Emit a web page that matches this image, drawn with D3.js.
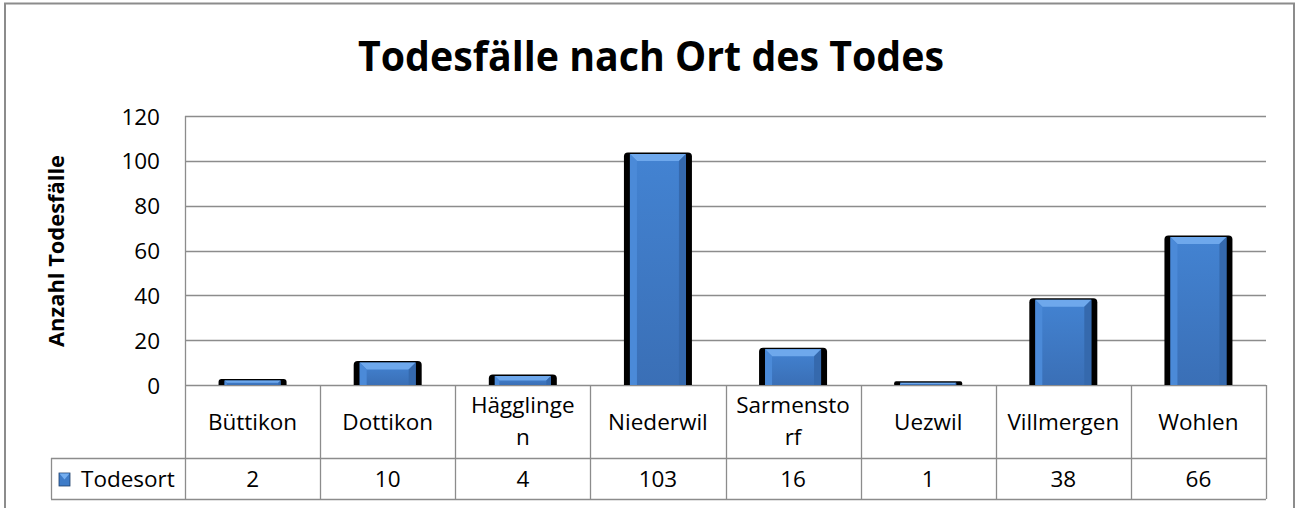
<!DOCTYPE html>
<html><head><meta charset="utf-8">
<script src="https://cdn.jsdelivr.net/npm/d3@7"></script>
<style>html,body{margin:0;padding:0;background:#fff;}svg{display:block;font-family:"Open Sans",sans-serif;}</style>
</head><body>
<svg id="c" width="1302" height="508"></svg>
<script>
const categories = ["Büttikon","Dottikon","Hägglingen","Niederwil","Sarmenstorf","Uezwil","Villmergen","Wohlen"];
const categoryLines = [["Büttikon"],["Dottikon"],["Hägglinge","n"],["Niederwil"],["Sarmensto","rf"],["Uezwil"],["Villmergen"],["Wohlen"]];
const values = [2,10,4,103,16,1,38,66];
const seriesName = "Todesort";
const yTicks = [0,20,40,60,80,100,120];
const title = "Todesfälle nach Ort des Todes";
const yLabel = "Anzahl Todesfälle";

const svg = d3.select("#c");
const L = 185, R = 1266, T = 116, B = 385, row1 = 458, row2 = 499, legL = 51;
const grid = "#8c8c8c";
const fs = 22.5;

svg.append("rect").attr("x",5).attr("y",3.5).attr("width",1289).attr("height",520)
  .attr("fill","#fff").attr("stroke","#8c8c8c").attr("stroke-width",2);

const x = d3.scaleBand().domain(categories).range([L,R]).padding(0);
const y = d3.scaleLinear().domain([0,120]).range([B,T]);

// gridlines
svg.append("g").selectAll("line").data(yTicks).join("line")
  .attr("x1",L).attr("x2",R).attr("y1",d=>Math.round(y(d))+0.5).attr("y2",d=>Math.round(y(d))+0.5)
  .attr("stroke",grid).attr("stroke-width",1.3);
svg.append("line").attr("x1",L+0.5).attr("x2",L+0.5).attr("y1",T).attr("y2",row2).attr("stroke",grid).attr("stroke-width",1.3);

// y axis labels
const yAxis = d3.axisLeft(y).tickValues(yTicks).tickSize(0).tickPadding(0);
const ga = svg.append("g").attr("transform",`translate(160,0)`).call(yAxis);
ga.select(".domain").remove();
ga.selectAll("text").attr("font-size",fs).attr("fill","#000").attr("font-family","Open Sans").attr("dy","0.36em");

// title
svg.append("text").attr("x",651).attr("y",71).attr("text-anchor","middle")
  .attr("font-size",42).attr("font-weight","bold").attr("textLength",586).attr("lengthAdjust","spacingAndGlyphs")
  .text(title);
// y label
svg.append("text").attr("transform","translate(64,251) rotate(-90)").attr("text-anchor","middle")
  .attr("font-size",21).attr("font-weight","bold").attr("textLength",192).attr("lengthAdjust","spacingAndGlyphs").text(yLabel);

// bars
const defs = svg.append("defs");
const g1 = defs.append("linearGradient").attr("id","bodyg").attr("x1",0).attr("x2",0).attr("y1",0).attr("y2",1);
g1.append("stop").attr("offset","0%").attr("stop-color","#4383d2");
g1.append("stop").attr("offset","100%").attr("stop-color","#3a6fb6");
const bw = 68;
const bars = svg.append("g").selectAll("g").data(values.map((v,i)=>({v,c:categories[i]}))).join("g");
bars.each(function(d){
  const g = d3.select(this);
  const cx = x(d.c)+x.bandwidth()/2;
  const x0 = cx-bw/2, x1 = cx+bw/2;
  const yt = y(d.v)-1.5, yb = B;
  const h = yb-yt;
  const r = Math.min(4,h/2);
  g.append("path").attr("d",`M${x0},${yb} L${x0},${yt+r} Q${x0},${yt} ${x0+r},${yt} L${x1-r},${yt} Q${x1},${yt} ${x1},${yt+r} L${x1},${yb} Z`).attr("fill","#000");
  const ix0 = x0+6, ix1 = x1-6, iy = yt+1.5;
  const ih = yb-iy;
  g.append("rect").attr("x",ix0).attr("y",iy).attr("width",ix1-ix0).attr("height",Math.max(0,ih)).attr("fill","url(#bodyg)");
  const bv = Math.min(7, ih/2);
  g.append("path").attr("d",`M${ix0},${iy} L${ix1},${iy} L${ix1-bv},${iy+bv} L${ix0+bv},${iy+bv} Z`).attr("fill","#6ea8ec");
  g.append("path").attr("d",`M${ix0},${iy} L${ix0+bv},${iy+bv} L${ix0+bv},${yb} L${ix0},${yb} Z`).attr("fill","#4b8ad8");
  g.append("path").attr("d",`M${ix1},${iy} L${ix1-bv},${iy+bv} L${ix1-bv},${yb} L${ix1},${yb} Z`).attr("fill","#3569ad");
});

// table
const bounds = categories.map(c=>x(c)).concat([R]);
svg.append("g").selectAll("line").data(bounds.slice(1)).join("line")
  .attr("x1",d=>Math.round(d)+0.5).attr("x2",d=>Math.round(d)+0.5).attr("y1",B).attr("y2",row2)
  .attr("stroke",grid).attr("stroke-width",1.3);
svg.append("line").attr("x1",legL).attr("x2",R).attr("y1",row1+0.5).attr("y2",row1+0.5).attr("stroke",grid).attr("stroke-width",1.3);
svg.append("line").attr("x1",legL).attr("x2",R).attr("y1",row2+0.5).attr("y2",row2+0.5).attr("stroke",grid).attr("stroke-width",1.3);
svg.append("line").attr("x1",legL+0.5).attr("x2",legL+0.5).attr("y1",row1).attr("y2",row2).attr("stroke",grid).attr("stroke-width",1.3);

const cl = svg.append("g").selectAll("text").data(categories).join("text")
  .attr("text-anchor","middle").attr("font-size",fs).attr("fill","#000")
  .attr("x",d=>x(d)+x.bandwidth()/2);
cl.each(function(d,i){
  const lines = categoryLines[i];
  const t = d3.select(this);
  const y0 = lines.length===1 ? 430 : 413;
  lines.forEach((ln,j)=>t.append("tspan").attr("x",x(d)+x.bandwidth()/2).attr("y",y0+j*32).text(ln));
});
svg.append("g").selectAll("text").data(values).join("text")
  .attr("text-anchor","middle").attr("font-size",fs).attr("fill","#000")
  .attr("x",(d,i)=>x(categories[i])+x.bandwidth()/2).attr("y",487).text(d=>d);

// legend
svg.append("rect").attr("x",59).attr("y",473).attr("width",11).attr("height",13).attr("fill","#3f7cc8").attr("stroke","#1f3f6a").attr("stroke-width",0.8);
svg.append("path").attr("d","M59.5,473.5 L69.5,473.5 L64.5,479.5 Z").attr("fill","#74aef0");
svg.append("text").attr("x",81).attr("y",487).attr("font-size",fs).text(seriesName);
</script>
</body></html>
